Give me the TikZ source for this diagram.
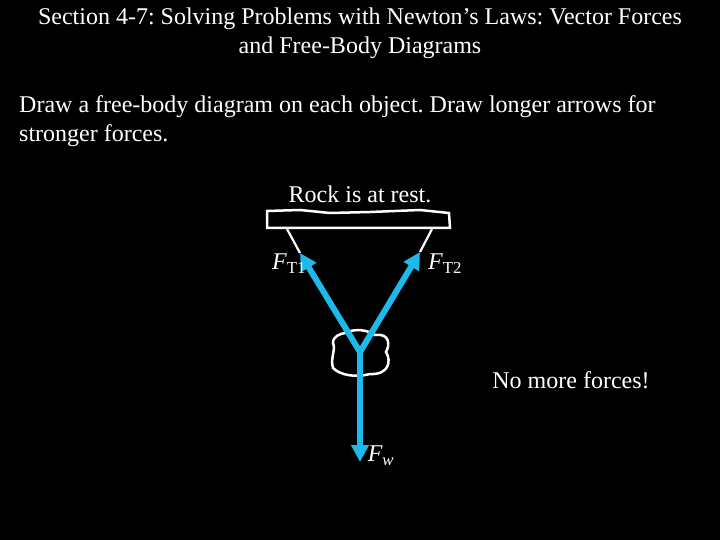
\documentclass[tikz,border=0pt]{standalone}
\usepackage{fontspec}
\setmainfont{Liberation Serif}
\frenchspacing
\begin{document}
\begin{tikzpicture}[x=1pt,y=-1pt,
  txt/.style={text=white,font=\fontsize{24}{29}\selectfont,inner sep=0},
  force/.style={draw={rgb,255:red,30;green,185;blue,235},line width=6pt,-{Triangle[length=17pt,width=17pt]}},
  outline/.style={draw=white,line width=2.5pt}]
\usetikzlibrary{arrows.meta}
\fill[black] (0,0) rectangle (720,540);
\useasboundingbox (0,0) rectangle (720,540);
\node[txt,align=center] (title) at (360,33) {Section 4-7: Solving Problems with Newton’s Laws: Vector Forces\\and Free-Body Diagrams};
\node[txt,align=left,anchor=north west] (body) at (19,95) {Draw a free-body diagram on each object. Draw longer arrows for\\stronger forces.};
\node[txt] (rest) at (360,194) {Rock is at rest.};
\node[txt] (more) at (571,380) {No more forces!};
% ceiling
\draw[outline] (267,211) -- (300,210) -- (330,213) -- (370,212) -- (420,210) -- (449,213) -- (450,228) -- (267,228) -- cycle;
\coordinate (s1) at (287,229); \coordinate (s2) at (432,229);
\coordinate (t1) at (300,253); \coordinate (t2) at (420,252);
\draw[white,line width=2.2pt] (s1) -- (t1);
\draw[white,line width=2.2pt] (s2) -- (t2);
% rock
\draw[outline] (345,333) .. controls (355,328) and (368,330) .. (375,335)
  .. controls (390,333) and (390,345) .. (386,352)
  .. controls (392,362) and (388,375) .. (370,374)
  .. controls (355,378) and (340,375) .. (333,368)
  .. controls (330,358) and (336,350) .. (333,343)
  .. controls (333,336) and (340,334) .. (345,333) -- cycle;
\coordinate (o) at (360,352);
\coordinate (w) at (360,462);
\draw[force] (o) -- (t1);
\draw[force] (o) -- (t2);
\draw[force] (o) -- (w);
\node[text=white,font=\fontsize{24}{29}\selectfont\itshape] (ft1) at (289,264) {F\textsubscript{\upshape T1}};
\node[text=white,font=\fontsize{24}{29}\selectfont\itshape] (ft2) at (445,264) {F\textsubscript{\upshape T2}};
\node[text=white,font=\fontsize{24}{29}\selectfont\itshape] (fw) at (381,456) {F\textsubscript{w}};
\end{tikzpicture}
\end{document}
